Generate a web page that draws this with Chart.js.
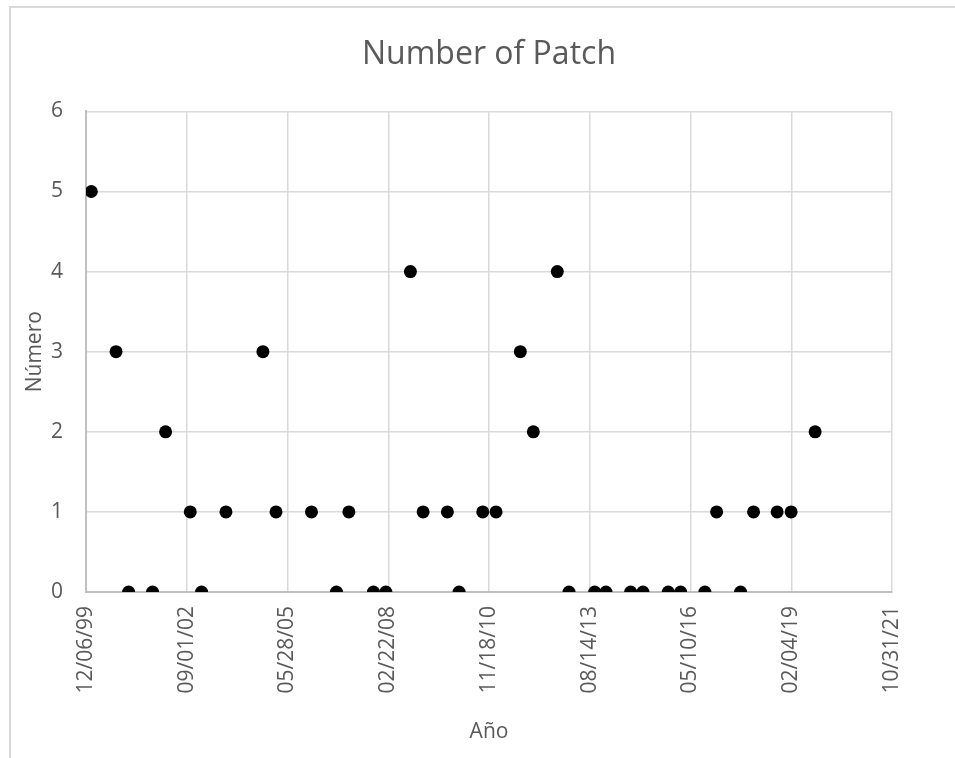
<!DOCTYPE html>
<html>
<head>
<meta charset="utf-8">
<script src="https://cdn.jsdelivr.net/npm/chart.js@4/dist/chart.umd.min.js"></script>
<style>
  body { margin: 0; background: #fff; }
  #wrap { position: relative; width: 955px; height: 758px; overflow: hidden; }
  #frame { position: absolute; left: 9px; top: 6px; width: 960px; height: 760px;
           border-top: 2px solid #d9d9d9; border-left: 2px solid #d9d9d9; }
  #graph { position: absolute; left: 0; top: 0; }
</style>
</head>
<body>
<div id="wrap">
  <div id="frame"></div>
  <canvas id="graph" width="955" height="758"></canvas>
</div>
<script>
// release dates and number of patches
const dates = [
  "2000-01-28", "2000-09-29", "2001-02-01", "2001-09-27", "2002-02-03",
  "2002-10-06", "2003-01-26", "2003-09-25", "2004-09-26", "2005-02-03",
  "2006-01-21", "2006-09-26", "2007-01-27", "2007-09-28", "2008-01-29",
  "2008-09-29", "2009-02-02", "2009-10-01", "2010-01-25", "2010-09-17",
  "2011-01-27", "2011-09-25", "2012-02-01", "2012-09-26", "2013-01-20",
  "2013-10-02", "2014-01-22", "2014-09-24", "2015-01-24", "2015-10-02",
  "2016-02-02", "2016-09-30", "2017-01-24", "2017-09-19", "2018-01-26",
  "2018-09-17", "2019-02-03", "2019-09-29"
];
const patches = [
  5, 3, 0, 0, 2,
  1, 0, 1, 3, 1,
  1, 0, 1, 0, 0,
  4, 1, 1, 0, 1,
  1, 3, 2, 4, 0,
  0, 0, 0, 0, 0,
  0, 0, 1, 0, 1,
  1, 1, 2
];
// x axis runs 12/06/99 .. 10/31/21 in 1000 day steps
const axisStart = "1999-12-06";
const axisStepDays = 1000;
const axisSteps = 8;

const DAY = 86400000;
function toDay(s) {
  const p = s.split("-").map(Number);
  return Date.UTC(p[0], p[1] - 1, p[2]) / DAY;
}
function fmtDay(v) {
  const d = new Date(Math.round(v) * DAY);
  const mm = String(d.getUTCMonth() + 1).padStart(2, "0");
  const dd = String(d.getUTCDate()).padStart(2, "0");
  const yy = String(d.getUTCFullYear() % 100).padStart(2, "0");
  return mm + "/" + dd + "/" + yy;
}

const points = dates.map((d, i) => ({x: toDay(d), y: patches[i]}));
const xMin = toDay(axisStart);
const xMax = xMin + axisStepDays * axisSteps;

const gray = "#595959";
const family = "'Open Sans', sans-serif";

var chart = new Chart("graph", {
  type: "scatter",
  data: {
    datasets: [{
      data: points,
      pointRadius: 6.5,
      pointHoverRadius: 6.5,
      pointBackgroundColor: "#000",
      pointBorderWidth: 0,
      showLine: false
    }]
  },
  options: {
    responsive: false,
    animation: false,
    devicePixelRatio: 1,
    events: [],
    layout: {padding: {left: 10, right: 63, top: 0, bottom: 0}},
    plugins: {
      legend: {display: false},
      tooltip: {enabled: false},
      title: {
        display: true,
        fullSize: false,
        text: "Number of Patch",
        color: gray,
        font: {family: family, size: 32, weight: "normal", lineHeight: 1.2},
        padding: {top: 36, bottom: 37}
      }
    },
    scales: {
      x: {
        type: "linear",
        min: xMin,
        max: xMax,
        afterFit: (s) => { s.height = 166; },
        ticks: {
          stepSize: axisStepDays,
          minRotation: 90,
          maxRotation: 90,
          padding: 14,
          color: gray,
          font: {family: family, size: 21},
          callback: (v) => fmtDay(v)
        },
        grid: {color: "#d9d9d9", lineWidth: 1.5, drawTicks: false, tickLength: 0},
        border: {color: "#bfbfbf", width: 2},
        title: {
          display: true,
          text: "Año",
          color: gray,
          font: {family: family, size: 21, lineHeight: 1.2},
          padding: {top: 0, bottom: 13}
        }
      },
      y: {
        min: 0,
        max: 6,
        afterFit: (s) => { s.width = 76; },
        ticks: {
          stepSize: 1,
          padding: 23,
          color: gray,
          font: {family: family, size: 21}
        },
        grid: {color: "#d9d9d9", lineWidth: 1.5, drawTicks: false, tickLength: 0},
        border: {color: "#bfbfbf", width: 2},
        title: {
          display: true,
          text: "Número",
          color: gray,
          font: {family: family, size: 21, lineHeight: 1.2},
          padding: {top: 12, bottom: 0}
        }
      }
    }
  }
});
</script>
</body>
</html>
